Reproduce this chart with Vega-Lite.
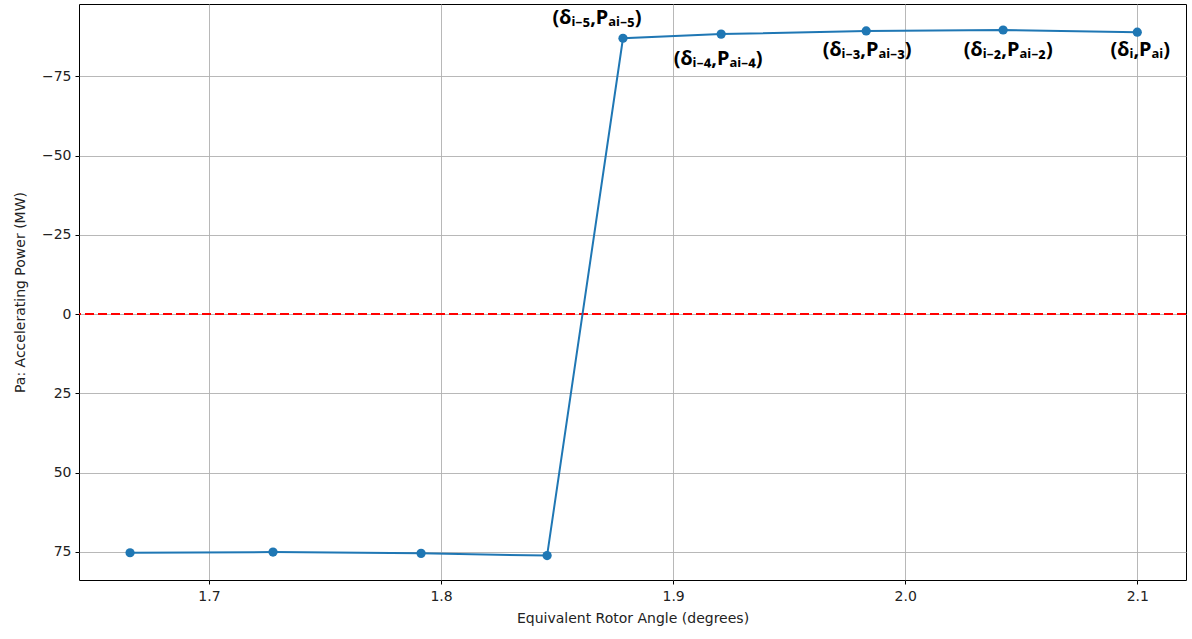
{
  "$schema": "https://vega.github.io/schema/vega-lite/v6.json",
  "width": 1107,
  "height": 576,
  "autosize": "none",
  "padding": {"left": 79, "top": 4, "right": 6, "bottom": 59},
  "background": "white",
  "config": {
    "view": {"stroke": "black", "strokeWidth": 1},
    "axis": {
      "labelFont": "DejaVu Sans",
      "labelFontSize": 14,
      "labelColor": "#222",
      "titleFont": "DejaVu Sans",
      "titleFontSize": 14,
      "titleFontWeight": "normal",
      "titleColor": "#222",
      "domain": false,
      "tickColor": "black",
      "tickSize": 4,
      "grid": true,
      "gridColor": "#b0b0b0",
      "gridWidth": 0.9
    }
  },
  "datasets": {
    "series": [
      {"angle": 1.666, "pa": 75.3},
      {"angle": 1.7276, "pa": 75.1},
      {"angle": 1.7914, "pa": 75.5},
      {"angle": 1.8457, "pa": 76.2},
      {"angle": 1.8784, "pa": -87.0},
      {"angle": 1.9207, "pa": -88.3},
      {"angle": 1.9832, "pa": -89.3},
      {"angle": 2.0422, "pa": -89.6},
      {"angle": 2.1, "pa": -88.9}
    ],
    "zero": [{"pa": 0}],
    "notes": [
      {"lx": 1.8672, "ly": -93.4, "label": "(δᵢ₋₅,Pₐᵢ₋₅)"},
      {"lx": 1.9194, "ly": -80.3, "label": "(δᵢ₋₄,Pₐᵢ₋₄)"},
      {"lx": 1.9836, "ly": -83.3, "label": "(δᵢ₋₃,Pₐᵢ₋₃)"},
      {"lx": 2.0444, "ly": -83.3, "label": "(δᵢ₋₂,Pₐᵢ₋₂)"},
      {"lx": 2.1013, "ly": -83.3, "label": "(δᵢ,Pₐᵢ)"}
    ]
  },
  "layer": [
    {
      "data": {"name": "zero"},
      "mark": {"type": "rule", "color": "red", "strokeWidth": 2, "strokeDash": [9, 4]},
      "encoding": {"y": {"field": "pa", "type": "quantitative"}}
    },
    {
      "data": {"name": "series"},
      "mark": {"type": "line", "color": "#1f77b4", "strokeWidth": 2},
      "encoding": {
        "x": {
          "field": "angle", "type": "quantitative",
          "scale": {"domain": [1.644, 2.121], "nice": false, "zero": false},
          "axis": {"values": [1.7, 1.8, 1.9, 2.0, 2.1], "format": ".1f", "title": "Equivalent Rotor Angle (degrees)", "labelPadding": 5, "titlePadding": 8}
        },
        "y": {
          "field": "pa", "type": "quantitative",
          "scale": {"domain": [-97.8, 83.9], "nice": false, "zero": false, "reverse": true},
          "axis": {"values": [-75, -50, -25, 0, 25, 50, 75], "title": "Pa: Accelerating Power (MW)", "labelPadding": 4, "titlePadding": 14}
        }
      }
    },
    {
      "data": {"name": "series"},
      "mark": {"type": "point", "filled": true, "opacity": 1, "color": "#1f77b4", "size": 85},
      "encoding": {
        "x": {"field": "angle", "type": "quantitative"},
        "y": {"field": "pa", "type": "quantitative"}
      }
    },
    {
      "data": {"name": "notes"},
      "mark": {"type": "text", "font": "Noto Sans", "fontWeight": "bold", "fontSize": 20, "color": "black", "align": "center", "baseline": "middle"},
      "encoding": {
        "x": {"field": "lx", "type": "quantitative"},
        "y": {"field": "ly", "type": "quantitative"},
        "text": {"field": "label"}
      }
    }
  ]
}
